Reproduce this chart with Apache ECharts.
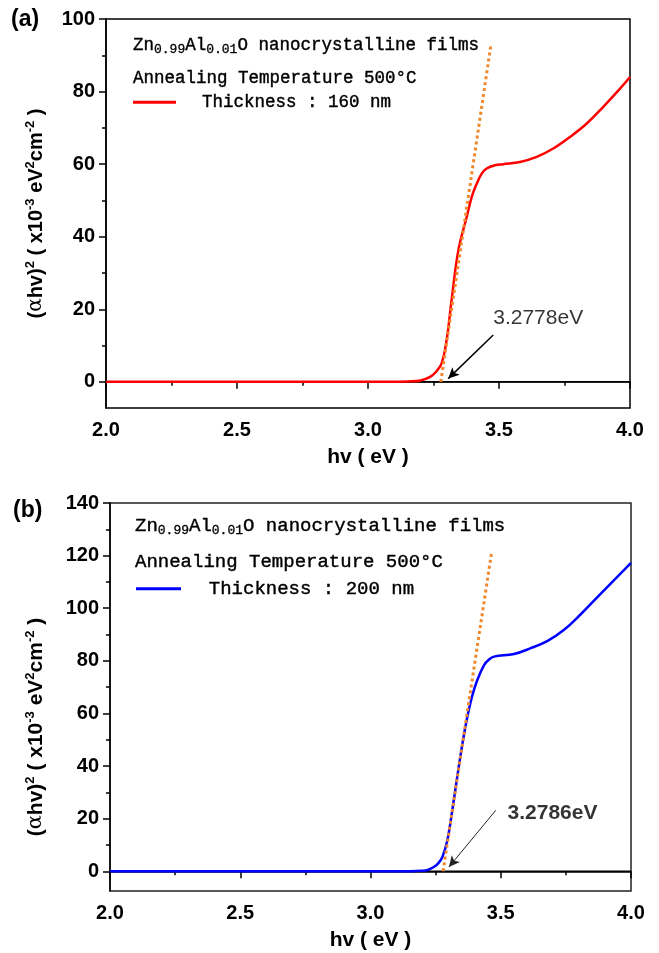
<!DOCTYPE html>
<html>
<head>
<meta charset="utf-8">
<script src="https://cdn.jsdelivr.net/npm/echarts@6/dist/echarts.min.js"></script>
<style>
html, body { margin: 0; padding: 0; background: #fff; }
#main { width: 659px; height: 953px; }
</style>
</head>
<body>
<div id="main"></div>
<script>
// 数据 (a) 160 nm
var hvA = [2.0, 2.5, 3.0, 3.1, 3.15, 3.2, 3.237, 3.26, 3.281, 3.30, 3.319, 3.345, 3.377, 3.396, 3.415, 3.434, 3.453, 3.485, 3.516, 3.58, 3.644, 3.707, 3.771, 3.835, 3.898, 3.962, 4.0];
var absA = [0, 0, 0, 0, 0.1, 0.4, 1.4, 2.8, 5.1, 11.5, 22.5, 36.3, 45.5, 51, 54.6, 57.4, 58.8, 59.7, 60.0, 60.6, 62.0, 64.3, 67.5, 71.2, 75.8, 80.8, 84.0];
var gapA = 3.2778;
var tanA = [[gapA, 0], [3.469, 92.8]];
var arrowA = [[3.478, 12.9], [3.306, 0.9]];
var noteA = [[3.478, 17.5]];

// 数据 (b) 200 nm
var hvB = [2.0, 2.5, 3.0, 3.1, 3.2, 3.22, 3.243, 3.26, 3.276, 3.295, 3.314, 3.333, 3.353, 3.372, 3.39, 3.41, 3.436, 3.455, 3.474, 3.551, 3.615, 3.68, 3.743, 3.808, 3.872, 3.936, 4.0];
var absB = [0, 0, 0, 0, 0.2, 0.5, 1.6, 3.0, 5.4, 11.8, 23.2, 35.9, 48.6, 58.8, 66.5, 72.7, 78.4, 80.5, 81.6, 82.6, 84.8, 87.6, 91.8, 97.8, 104.3, 110.8, 117.2];
var gapB = 3.2786;
var tanB = [[gapB, 0], [3.465, 121.3]];
var arrowB = [[3.481, 23.2], [3.301, 1.6]];
var noteB = [[3.526, 22]];

var yTicksA = [0, 20, 40, 60, 80, 100];
var yMinorA = [10, 30, 50, 70, 90];
var yTicksB = [0, 20, 40, 60, 80, 100, 120, 140];
var yMinorB = [10, 30, 50, 70, 90, 110, 130];
var baseX = [2, 4];

function zip(xs, ys) {
	return xs.map(function(x, i) { return [x, ys[i]]; });
}

var MONO = 'Liberation Mono';
var SANS = 'Liberation Sans';

var yName = '{n|(}{g|α}{n|hv)}{p|2}{n| ( x10}{p|-3}{n| eV}{p|2}{n|cm}{p|-2}{n| )}';
function yNameRich(size) {
	return {
		n: { fontFamily: SANS, fontWeight: 'bold', fontSize: size, color: '#000', lineHeight: 24 },
		g: { fontFamily: 'DejaVu Serif', fontWeight: 'normal', fontSize: size, color: '#000', lineHeight: 24 },
		p: { fontFamily: SANS, fontWeight: 'bold', fontSize: 13, color: '#000', lineHeight: 14, padding: [0, 0, 12, 0] }
	};
}

function headRich(size) {
	return {
		n: { fontFamily: MONO, fontWeight: 'normal', fontSize: size, color: '#000', lineHeight: 22, textBorderColor: '#000', textBorderWidth: 0.4 },
		s: { fontFamily: MONO, fontWeight: 'normal', fontSize: 13, color: '#000', lineHeight: 14, padding: [10, 0, 0, 0], textBorderColor: '#000', textBorderWidth: 0.3 }
	};
}

function xAxisOf(grid) {
	return {
		gridIndex: grid, type: 'value', min: 2, max: 4, interval: 0.5,
		axisLine: { lineStyle: { color: '#000', width: 1.5 } },
		axisTick: { length: 7, lineStyle: { color: '#000', width: 1.5 } },
		minorTick: { show: true, splitNumber: 2, length: 4, lineStyle: { color: '#000', width: 1.5 } },
		splitLine: { show: false },
		axisLabel: {
			margin: 12, color: '#000', fontFamily: SANS, fontWeight: 'bold', fontSize: 20,
			formatter: function(v) { return v.toFixed(1); }
		},
		name: 'hv ( eV )', nameLocation: 'middle', nameGap: 39,
		nameTextStyle: { fontFamily: SANS, fontWeight: 'bold', fontSize: 21, color: '#000' }
	};
}

function yAxisOf(grid, min, max, ticks, gap, size, pad) {
	return {
		gridIndex: grid, type: 'value', min: min, max: max,
		axisLine: { lineStyle: { color: '#000', width: 1.5 } },
		axisTick: { customValues: ticks, length: 7, lineStyle: { color: '#000', width: 1.5 } },
		splitLine: { show: false },
		axisLabel: { customValues: ticks, margin: 11, color: '#000', fontFamily: SANS, fontWeight: 'bold', fontSize: 20 },
		name: yName, nameLocation: 'middle', nameGap: gap,
		nameTextStyle: { rich: yNameRich(size), padding: pad }
	};
}

function yMinorOf(grid, min, max, ticks) {
	return {
		gridIndex: grid, type: 'value', min: min, max: max, position: 'left',
		axisLine: { show: false },
		axisTick: { customValues: ticks, length: 4, lineStyle: { color: '#000', width: 1.5 } },
		axisLabel: { show: false },
		splitLine: { show: false }
	};
}

var myChart = echarts.init(document.getElementById('main'));
var option = {
	animation: false,
	backgroundColor: '#fff',
	title: [
		{ text: '(a)', left: 11, top: 8, padding: 0, textStyle: { fontFamily: SANS, fontWeight: 'bold', fontSize: 23, color: '#000' } },
		{ text: '{n|Zn}{s|0.99}{n|Al}{s|0.01}{n|O nanocrystalline films}', left: 133, top: 34, padding: 0, textStyle: { rich: headRich(17.5) } },
		{ text: '{n|Annealing Temperature 500°C}', left: 133, top: 67, padding: 0, textStyle: { rich: headRich(17.5) } },
		{ text: '(b)', left: 13, top: 499, padding: 0, textStyle: { fontFamily: SANS, fontWeight: 'bold', fontSize: 23, color: '#000' } },
		{ text: '{n|Zn}{s|0.99}{n|Al}{s|0.01}{n|O nanocrystalline films}', left: 135, top: 515, padding: 0, textStyle: { rich: headRich(19) } },
		{ text: '{n|Annealing Temperature 500°C}', left: 135, top: 551, padding: 0, textStyle: { rich: headRich(19) } }
	],
	legend: [
		{
			data: [{ name: 'Thickness : 160 nm', icon: 'rect' }], left: 133, top: 93, padding: 0, selectedMode: false,
			itemWidth: 43, itemHeight: 3,
			formatter: '  {name}',
			textStyle: { fontFamily: MONO, fontSize: 17.5, color: '#000', textBorderColor: '#000', textBorderWidth: 0.4 }
		},
		{
			data: [{ name: 'Thickness : 200 nm', icon: 'rect' }], left: 136, top: 579, padding: 0, selectedMode: false,
			itemWidth: 45, itemHeight: 3,
			formatter: '  {name}',
			textStyle: { fontFamily: MONO, fontSize: 19, color: '#000', textBorderColor: '#000', textBorderWidth: 0.4 }
		}
	],
	grid: [
		{ left: 106, top: 19, width: 524, height: 389, show: true, borderColor: '#000', borderWidth: 1.5, backgroundColor: 'transparent' },
		{ left: 110, top: 503, width: 521, height: 388, show: true, borderColor: '#222', borderWidth: 1.5, backgroundColor: 'transparent' }
	],
	xAxis: [xAxisOf(0), xAxisOf(1)],
	yAxis: [
		yAxisOf(0, -7.2, 100, yTicksA, 58, 20, [0, 0, 0, 0]),
		yMinorOf(0, -7.2, 100, yMinorA),
		yAxisOf(1, -7.5, 140, yTicksB, 62, 21, [0, 60, 0, 0]),
		yMinorOf(1, -7.5, 140, yMinorB)
	],
	series: [
		// (a)
		{
			type: 'line', xAxisIndex: 0, yAxisIndex: 0, data: zip(baseX, [0, 0]), symbol: 'none', silent: true,
			lineStyle: { color: '#000', width: 1.5 },
			markLine: {
				silent: true, symbolSize: [8, 11], label: { show: false },
				lineStyle: { color: '#000', width: 1.5, type: 'solid' },
				data: [[{ coord: arrowA[0], symbol: 'none' }, { coord: arrowA[1], symbol: 'arrow' }]]
			}
		},
		{
			name: 'Thickness : 160 nm', type: 'line', xAxisIndex: 0, yAxisIndex: 0,
			data: zip(hvA, absA), symbol: 'none', smooth: 0.4,
			lineStyle: { color: '#ff0000', width: 2.5 }, itemStyle: { color: '#ff0000' }
		},
		{
			type: 'line', xAxisIndex: 0, yAxisIndex: 0, data: tanA, symbol: 'none', silent: true,
			lineStyle: { color: '#f0872a', width: 3, type: [3, 3] }
		},
		{
			type: 'scatter', xAxisIndex: 0, yAxisIndex: 0, data: noteA, symbolSize: 0, silent: true,
			label: { show: true, position: 'right', distance: 0, formatter: gapA.toFixed(4) + 'eV', fontFamily: SANS, fontSize: 21, color: '#000' }
		},
		// (b)
		{
			type: 'line', xAxisIndex: 1, yAxisIndex: 2, data: zip(baseX, [0, 0]), symbol: 'none', silent: true,
			lineStyle: { color: '#000', width: 1.5 },
			markLine: {
				silent: true, symbolSize: [8, 11], label: { show: false },
				lineStyle: { color: '#222', width: 1, type: 'solid' },
				data: [[{ coord: arrowB[0], symbol: 'none' }, { coord: arrowB[1], symbol: 'arrow' }]]
			}
		},
		{
			name: 'Thickness : 200 nm', type: 'line', xAxisIndex: 1, yAxisIndex: 2,
			data: zip(hvB, absB), symbol: 'none', smooth: 0.4,
			lineStyle: { color: '#0000ff', width: 2.5 }, itemStyle: { color: '#0000ff' }
		},
		{
			type: 'line', xAxisIndex: 1, yAxisIndex: 2, data: tanB, symbol: 'none', silent: true,
			lineStyle: { color: '#f0872a', width: 3, type: [3, 3] }
		},
		{
			type: 'scatter', xAxisIndex: 1, yAxisIndex: 2, data: noteB, symbolSize: 0, silent: true,
			label: { show: true, position: 'right', distance: 0, formatter: gapB.toFixed(4) + 'eV', fontFamily: SANS, fontWeight: 'bold', fontSize: 21, color: '#000' }
		}
	]
};
myChart.setOption(option);
</script>
</body>
</html>
